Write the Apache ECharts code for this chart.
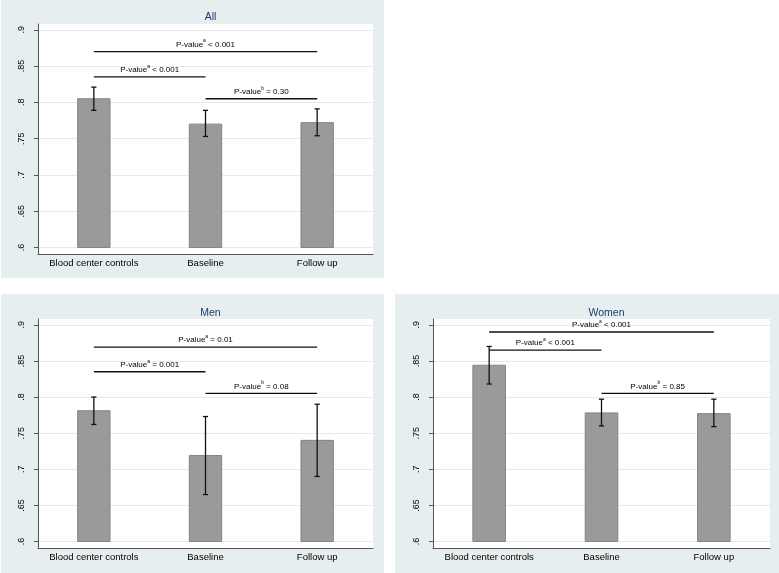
<!DOCTYPE html>
<html><head><meta charset="utf-8">
<script src="https://cdn.jsdelivr.net/npm/echarts@6/dist/echarts.min.js"></script>
<style>
html,body{margin:0;padding:0;background:#fff;width:779px;height:573px;overflow:hidden}
.panel{position:absolute;background:#e7eeef}
</style></head><body>
<div id="pAll" class="panel" style="left:1px;top:0;width:383px;height:278px"></div>
<div id="pMen" class="panel" style="left:1px;top:294px;width:383px;height:279px"></div>
<div id="pWomen" class="panel" style="left:395px;top:294px;width:384px;height:279px"></div>
<script>
// ---- data ----
const categories = ['Blood center controls', 'Baseline', 'Follow up'];
const yTicks = [0.6, 0.65, 0.7, 0.75, 0.8, 0.85, 0.9];
const barBase = 0.6;

const allMeans  = [0.805, 0.770, 0.772];
const allLower  = [0.789, 0.753, 0.754];
const allUpper  = [0.821, 0.789, 0.791];
const allFrom   = [0, 0, 1];
const allTo     = [2, 1, 2];
const allLevel  = [0.870, 0.835, 0.805];
const allSup    = ['a', 'a', 'b'];
const allPText  = ['< 0.001', '< 0.001', '= 0.30'];

const menMeans  = [0.781, 0.719, 0.740];
const menLower  = [0.762, 0.665, 0.690];
const menUpper  = [0.800, 0.773, 0.790];
const menFrom   = [0, 0, 1];
const menTo     = [2, 1, 2];
const menLevel  = [0.869, 0.835, 0.805];
const menSup    = ['a', 'a', 'b'];
const menPText  = ['= 0.01', '= 0.001', '= 0.08'];

const womenMeans = [0.844, 0.778, 0.777];
const womenLower = [0.818, 0.760, 0.759];
const womenUpper = [0.870, 0.797, 0.797];
const womenFrom  = [0, 0, 1];
const womenTo    = [2, 1, 2];
const womenLevel = [0.890, 0.865, 0.805];
const womenSup   = ['a', 'a', 'b'];
const womenPText = ['< 0.001', '< 0.001', '= 0.85'];

const FONT = "'Liberation Sans', Arial, sans-serif";

function build(el, title, means, lower, upper, from, to, level, sup, ptext, layout) {
  const chart = echarts.init(document.getElementById(el), null, {renderer: 'canvas'});
  const barData = means.map((v, i) => [i, v]);
  const errData = means.map((v, i) => [i, lower[i], upper[i]]);
  const brData = from.map((f, i) => [f, to[i], level[i], sup[i], ptext[i]]);
  chart.setOption({
    backgroundColor: 'transparent',
    animation: false,
    textStyle: {fontFamily: FONT},
    title: {
      text: title, left: layout.left + layout.width / 2, textAlign: 'center', top: layout.titleTop,
      textStyle: {fontSize: 10.5, fontWeight: 'normal', color: '#1a3c6e', fontFamily: FONT}
    },
    grid: {
      left: layout.left, top: layout.top, width: layout.width, height: layout.height,
      show: true, backgroundColor: '#ffffff', borderWidth: 0
    },
    xAxis: {
      type: 'category', data: categories,
      axisLine: {show: true, lineStyle: {color: '#555', width: 1}},
      axisTick: {show: false},
      axisLabel: {fontSize: 9.5, color: '#000', margin: 4, interval: 0, fontFamily: FONT}
    },
    yAxis: {
      type: 'value', min: 0.591, max: 0.908,
      axisLine: {show: true, lineStyle: {color: '#555', width: 1}},
      axisTick: {show: true, customValues: yTicks, length: 4, lineStyle: {color: '#555'}},
      axisLabel: {
        customValues: yTicks, rotate: 90, fontSize: 9, color: '#000', margin: 12, fontFamily: FONT,
        formatter: v => String(+(+v).toFixed(2)).replace(/^0/, '')
      },
      splitLine: {show: true, lineStyle: {color: '#e2eaee', width: 1}}
    },
    series: [
      {
        type: 'custom', data: barData, encode: {x: 0, y: 1}, z: 2,
        renderItem: (p, api) => {
          const i = api.value(0), v = api.value(1);
          const b = api.coord([i, barBase]);
          const t = api.coord([i, v]);
          const w = api.size([1, 0])[0] * 0.29;
          return {type: 'rect', shape: {x: t[0] - w / 2, y: t[1], width: w, height: b[1] - t[1]},
                  style: {fill: '#9a9a9a', stroke: '#848484', lineWidth: 1}};
        }
      },
      {
        type: 'custom', data: errData, encode: {x: 0, y: [1, 2]}, z: 3,
        renderItem: (p, api) => {
          const i = api.value(0);
          const lo = api.coord([i, api.value(1)]);
          const hi = api.coord([i, api.value(2)]);
          const c = 2.6;
          const st = {stroke: '#111', lineWidth: 1.3};
          return {type: 'group', children: [
            {type: 'line', shape: {x1: lo[0], y1: lo[1], x2: hi[0], y2: hi[1]}, style: st},
            {type: 'line', shape: {x1: lo[0] - c, y1: lo[1], x2: lo[0] + c, y2: lo[1]}, style: st},
            {type: 'line', shape: {x1: hi[0] - c, y1: hi[1], x2: hi[0] + c, y2: hi[1]}, style: st}
          ]};
        }
      },
      {
        type: 'custom', data: brData, encode: {x: [0, 1], y: 2}, z: 4,
        dimensions: ['from', 'to', 'level', {name: 'sup', type: 'ordinal'}, {name: 'txt', type: 'ordinal'}],
        renderItem: (p, api) => {
          const d = brData[p.dataIndex];
          const a = api.coord([d[0], d[2]]);
          const b = api.coord([d[1], d[2]]);
          return {type: 'group', children: [
            {type: 'line', shape: {x1: a[0], y1: a[1], x2: b[0], y2: b[1]}, style: {stroke: '#111', lineWidth: 1.3}},
            {type: 'text', x: (a[0] + b[0]) / 2, y: a[1] - 3,
             style: {
               text: '{n|P-value}{s|' + d[3] + '}{n| ' + d[4] + '}',
               align: 'center', verticalAlign: 'bottom',
               rich: {
                 n: {fontSize: 8, fill: '#000', fontFamily: FONT, lineHeight: 10, verticalAlign: 'bottom'},
                 s: {fontSize: 5, fill: '#000', fontFamily: FONT, lineHeight: 10, verticalAlign: 'top', padding: [0, 0, 4, 0]}
               }
             }}
          ]};
        }
      }
    ]
  });
}

build('pAll', 'All', allMeans, allLower, allUpper, allFrom, allTo, allLevel, allSup, allPText,
      {left: 37, top: 24, width: 335, height: 230, titleTop: 7});
build('pMen', 'Men', menMeans, menLower, menUpper, menFrom, menTo, menLevel, menSup, menPText,
      {left: 37, top: 25, width: 335, height: 229, titleTop: 9});
build('pWomen', 'Women', womenMeans, womenLower, womenUpper, womenFrom, womenTo, womenLevel, womenSup, womenPText,
      {left: 38, top: 25, width: 337, height: 229, titleTop: 9});
</script>
</body></html>
